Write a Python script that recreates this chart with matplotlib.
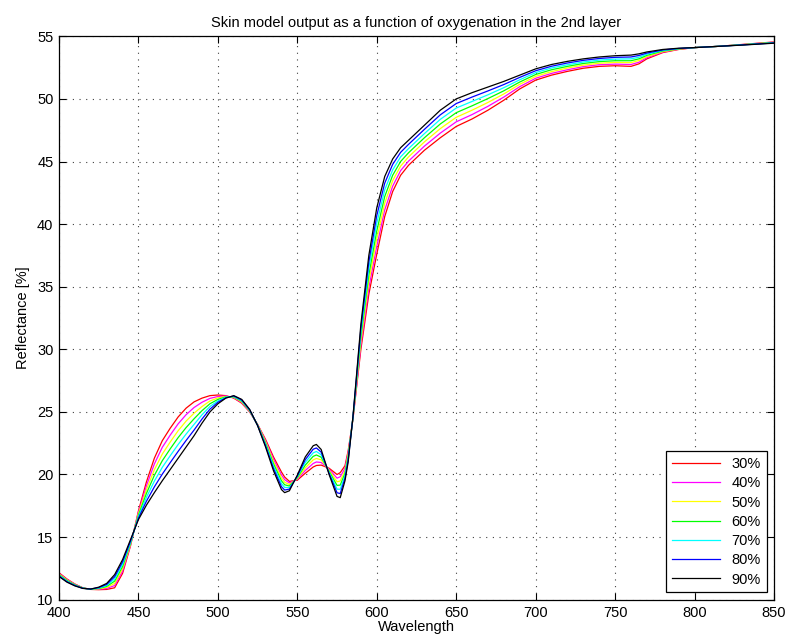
import matplotlib
matplotlib.use("Agg")
import matplotlib.pyplot as plt

plt.rcParams['font.family'] = ['Liberation Sans', 'DejaVu Sans']

# Wavelength grid (nm)
wavelength = [400, 405, 410, 415, 420, 425, 430, 435, 440, 445,
              450, 455, 460, 465, 470, 475, 480, 485, 490, 495,
              500, 505, 510, 515, 520, 525, 530, 535, 540, 542,
              545, 550, 555, 560, 562, 565, 570, 575, 577, 580,
              582, 585, 590, 595,
              600, 605, 610, 615, 620, 630, 640, 650, 660, 670,
              680, 690, 700, 710, 720, 730, 740, 750, 760, 765,
              770, 780, 790, 800, 815, 830, 850]

# Reflectance [%] for each oxygenation level
r30 = [12.15, 11.65, 11.25, 10.95, 10.82, 10.80, 10.82, 10.95, 12.10, 14.30,
       17.10, 19.40, 21.30, 22.70, 23.70, 24.60, 25.30, 25.80, 26.10, 26.30,
       26.35, 26.30, 26.10, 25.70, 25.00, 24.00, 22.80, 21.40, 20.20, 19.80,
       19.45, 19.55, 20.10, 20.60, 20.72, 20.75, 20.50, 20.00, 20.15, 20.70,
       21.90, 24.40, 30.00, 34.40,
       37.60, 40.60, 42.60, 43.90, 44.70, 45.90, 46.90, 47.80, 48.40, 49.10,
       49.90, 50.80, 51.50, 51.90, 52.20, 52.45, 52.60, 52.65, 52.60, 52.80,
       53.20, 53.70, 53.95, 54.10, 54.20, 54.35, 54.55]
r40 = [12.10, 11.61, 11.23, 10.94, 10.83, 10.83, 10.90, 11.13, 12.28, 14.37,
       16.98, 19.09, 20.84, 22.17, 23.15, 24.05, 24.78, 25.35, 25.77, 26.08,
       26.23, 26.27, 26.13, 25.75, 25.03, 23.98, 22.70, 21.22, 19.97, 19.59,
       19.33, 19.62, 20.32, 20.88, 21.00, 20.96, 20.42, 19.71, 19.82, 20.50,
       21.75, 24.43, 30.33, 34.92,
       38.22, 41.13, 43.03, 44.27, 45.03, 46.23, 47.27, 48.17, 48.75, 49.41,
       50.15, 50.98, 51.65, 52.04, 52.33, 52.58, 52.73, 52.78, 52.75, 52.93,
       53.29, 53.74, 53.97, 54.10, 54.20, 54.34, 54.53]
r50 = [12.05, 11.57, 11.20, 10.93, 10.83, 10.87, 10.98, 11.30, 12.47, 14.43,
       16.87, 18.78, 20.38, 21.63, 22.60, 23.50, 24.27, 24.90, 25.43, 25.87,
       26.12, 26.23, 26.17, 25.80, 25.07, 23.97, 22.60, 21.03, 19.73, 19.38,
       19.20, 19.68, 20.53, 21.17, 21.28, 21.17, 20.33, 19.42, 19.48, 20.30,
       21.60, 24.47, 30.67, 35.43,
       38.83, 41.67, 43.47, 44.63, 45.37, 46.57, 47.63, 48.53, 49.10, 49.72,
       50.40, 51.17, 51.80, 52.18, 52.47, 52.70, 52.85, 52.92, 52.90, 53.07,
       53.38, 53.78, 53.98, 54.10, 54.20, 54.33, 54.52]
r60 = [12.00, 11.53, 11.18, 10.93, 10.84, 10.90, 11.06, 11.48, 12.65, 14.50,
       16.75, 18.48, 19.93, 21.10, 22.05, 22.95, 23.75, 24.45, 25.10, 25.65,
       26.00, 26.20, 26.20, 25.85, 25.10, 23.95, 22.50, 20.85, 19.50, 19.18,
       19.08, 19.75, 20.75, 21.45, 21.56, 21.38, 20.25, 19.13, 19.15, 20.10,
       21.45, 24.50, 31.00, 35.95,
       39.45, 42.20, 43.90, 45.00, 45.70, 46.90, 48.00, 48.90, 49.45, 50.03,
       50.65, 51.35, 51.95, 52.33, 52.60, 52.83, 52.98, 53.05, 53.05, 53.20,
       53.48, 53.83, 54.00, 54.10, 54.20, 54.33, 54.50]
r70 = [11.95, 11.48, 11.15, 10.92, 10.84, 10.93, 11.14, 11.65, 12.83, 14.57,
       16.63, 18.17, 19.47, 20.57, 21.50, 22.40, 23.23, 24.00, 24.77, 25.43,
       25.88, 26.17, 26.23, 25.90, 25.13, 23.93, 22.40, 20.67, 19.27, 18.97,
       18.95, 19.82, 20.97, 21.73, 21.84, 21.58, 20.17, 18.83, 18.82, 19.90,
       21.30, 24.53, 31.33, 36.47,
       40.07, 42.73, 44.33, 45.37, 46.03, 47.23, 48.37, 49.27, 49.80, 50.33,
       50.90, 51.53, 52.10, 52.47, 52.73, 52.95, 53.10, 53.18, 53.20, 53.33,
       53.57, 53.87, 54.02, 54.10, 54.20, 54.32, 54.48]
r80 = [11.90, 11.44, 11.13, 10.91, 10.85, 10.97, 11.22, 11.83, 13.02, 14.67,
       16.52, 17.86, 19.01, 20.03, 20.95, 21.85, 22.72, 23.55, 24.43, 25.22,
       25.77, 26.13, 26.27, 25.95, 25.17, 23.92, 22.30, 20.48, 19.03, 18.76,
       18.83, 19.88, 21.18, 22.02, 22.12, 21.79, 20.08, 18.54, 18.48, 19.70,
       21.15, 24.57, 31.67, 36.98,
       40.68, 43.27, 44.77, 45.73, 46.37, 47.57, 48.73, 49.63, 50.15, 50.64,
       51.15, 51.72, 52.25, 52.61, 52.87, 53.08, 53.23, 53.32, 53.35, 53.47,
       53.66, 53.91, 54.03, 54.10, 54.20, 54.31, 54.47]
r90 = [11.85, 11.40, 11.10, 10.90, 10.85, 11.00, 11.30, 12.00, 13.20, 14.80,
       16.40, 17.55, 18.55, 19.50, 20.40, 21.30, 22.20, 23.10, 24.10, 25.00,
       25.65, 26.10, 26.30, 26.00, 25.20, 23.90, 22.20, 20.30, 18.80, 18.55,
       18.70, 19.95, 21.40, 22.30, 22.40, 22.00, 20.00, 18.25, 18.15, 19.50,
       21.00, 24.60, 32.00, 37.50,
       41.30, 43.80, 45.20, 46.10, 46.70, 47.90, 49.10, 50.00, 50.50, 50.95,
       51.40, 51.90, 52.40, 52.75, 53.00, 53.20, 53.35, 53.45, 53.50, 53.60,
       53.75, 53.95, 54.05, 54.10, 54.20, 54.30, 54.45]

series = [r30, r40, r50, r60, r70, r80, r90]
labels = ['30%', '40%', '50%', '60%', '70%', '80%', '90%']
colors = ['#ff0000', '#ff00ff', '#ffff00', '#00ff00', '#00ffff', '#0000ff', '#000000']

fig = plt.figure(figsize=(7.9, 6.44), dpi=100)
ax = fig.add_axes([0.0747, 0.0688, 0.905, 0.8748])

for vals, lab, col in zip(series, labels, colors):
    ax.plot(wavelength, vals, color=col, linewidth=0.9, label=lab)

ax.set_xlim(400, 850)
ax.set_ylim(10, 55)
ax.set_xticks(range(400, 851, 50))
ax.set_yticks(range(10, 56, 5))

ax.grid(True, color='0.25', linestyle=(0, (1, 5)), linewidth=0.8)
ax.tick_params(direction='in', top=True, right=True, length=5,
               width=0.8, labelsize=10.5)
ax.tick_params(axis='x', pad=4.5)
ax.tick_params(axis='y', pad=4)
for sp in ax.spines.values():
    sp.set_linewidth(0.9)

ax.set_title('Skin model output as a function of oxygenation in the 2nd layer',
             fontsize=10.5, pad=7)
ax.set_xlabel('Wavelength', fontsize=10.5, labelpad=0)
ax.set_ylabel('Reflectance [%]', fontsize=10.5, labelpad=5)

leg = ax.legend(loc='lower right', fontsize=10.5, frameon=True, fancybox=False,
                edgecolor='black', framealpha=1, labelspacing=0.36,
                handlelength=3.3, handletextpad=0.8, borderpad=0.4,
                borderaxespad=0.5)
leg.get_frame().set_linewidth(0.9)

plt.savefig('out.png', dpi=100)
